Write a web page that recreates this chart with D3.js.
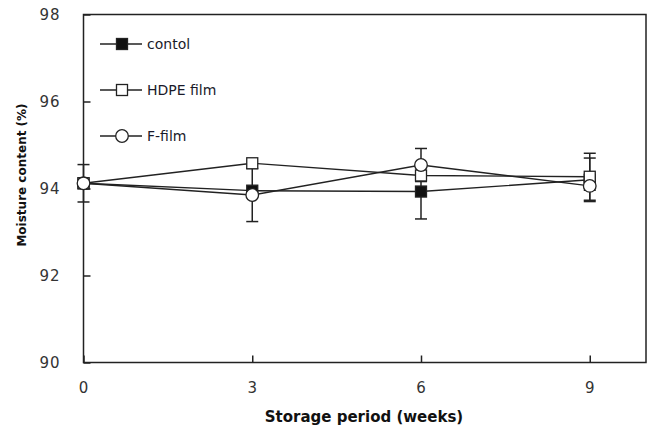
<!DOCTYPE html>
<html>
<head>
<meta charset="utf-8">
<script src="https://cdn.jsdelivr.net/npm/d3@7"></script>
<style>
  body { margin: 0; background: #fff; }
  svg { display: block; }
</style>
</head>
<body>
<script>
const width = 654;
const height = 427;
const margin = {top: 14.5, right: 8, bottom: 64.5, left: 83.5};

// data
const weeks = [0, 3, 6, 9];
const control = [94.12, 93.95, 93.93, 94.2];
const controlErr = [0.43, 0, 0.63, 0.5];
const hdpe = [94.12, 94.58, 94.3, 94.27];
const hdpeErr = [0, 0, 0, 0.54];
const ffilm = [94.12, 93.85, 94.54, 94.06];
const ffilmErr = [0, 0.61, 0.38, 0.1];
const xTicks = [0, 3, 6, 9];
const yTicks = [90, 92, 94, 96, 98];

const series = [
    {name: 'contol', values: control, err: controlErr, shape: 'square', fill: '#111'},
    {name: 'HDPE film', values: hdpe, err: hdpeErr, shape: 'square', fill: '#fff'},
    {name: 'F-film', values: ffilm, err: ffilmErr, shape: 'circle', fill: '#fff'}
];

const ink = '#222';

const svg = d3.select('body').append('svg')
    .attr('width', width)
    .attr('height', height);

const x = d3.scaleLinear().domain([0, 10]).range([margin.left, width - margin.right]);
const y = d3.scaleLinear().domain([90, 98]).range([height - margin.bottom, margin.top]);

// frame
svg.append('rect')
    .attr('x', x(0)).attr('y', y(98))
    .attr('width', x(10) - x(0)).attr('height', y(90) - y(98))
    .attr('fill', 'none').attr('stroke', ink).attr('stroke-width', 1.5);

// x axis, ticks inward
const xAxis = svg.append('g')
    .attr('transform', `translate(0,${y(90)})`)
    .call(d3.axisTop(x).tickValues(xTicks).tickSize(7).tickFormat(''));
xAxis.select('.domain').remove();
xAxis.selectAll('.tick line').attr('stroke', ink).attr('stroke-width', 1.5);

svg.append('g').selectAll('text')
    .data(xTicks)
    .enter().append('text')
    .attr('x', d => x(d))
    .attr('y', y(90) + 30)
    .attr('text-anchor', 'middle')
    .attr('font-family', 'DejaVu Sans, sans-serif')
    .attr('font-size', 15)
    .attr('fill', '#333')
    .text(d => d);

// y axis, ticks inward
const yAxis = svg.append('g')
    .attr('transform', `translate(${x(0)},0)`)
    .call(d3.axisRight(y).tickValues(yTicks).tickSize(7).tickFormat(''));
yAxis.select('.domain').remove();
yAxis.selectAll('.tick line').attr('stroke', ink).attr('stroke-width', 1.5);

svg.append('g').selectAll('text')
    .data(yTicks)
    .enter().append('text')
    .attr('x', x(0) - 23)
    .attr('y', d => y(d) + 5)
    .attr('text-anchor', 'end')
    .attr('font-family', 'DejaVu Sans, sans-serif')
    .attr('font-size', 15)
    .attr('letter-spacing', 1)
    .attr('fill', '#333')
    .text(d => d);

// axis titles
svg.append('text')
    .attr('x', 364)
    .attr('y', 422)
    .attr('text-anchor', 'middle')
    .attr('font-family', 'DejaVu Sans, sans-serif')
    .attr('font-weight', 'bold')
    .attr('font-size', 15)
    .attr('fill', '#111')
    .text('Storage period (weeks)');

svg.append('text')
    .attr('transform', 'translate(26,175) rotate(-90)')
    .attr('text-anchor', 'middle')
    .attr('font-family', 'DejaVu Sans, sans-serif')
    .attr('font-weight', 'bold')
    .attr('font-size', 12)
    .attr('fill', '#111')
    .text('Moisture content (%)');

function drawMarker(g, s, cx, cy) {
    if (s.shape === 'square') {
        g.append('rect')
            .attr('x', cx - 5.5).attr('y', cy - 5.5)
            .attr('width', 11).attr('height', 11)
            .attr('fill', s.fill).attr('stroke', ink).attr('stroke-width', 1.3);
    } else {
        g.append('circle')
            .attr('cx', cx).attr('cy', cy).attr('r', 6.3)
            .attr('fill', s.fill).attr('stroke', ink).attr('stroke-width', 1.3);
    }
}

const line = d3.line()
    .x((d, i) => x(weeks[i]))
    .y(d => y(d));

// error bars
series.forEach(s => {
    const g = svg.append('g');
    s.values.forEach((v, i) => {
        if (!s.err[i]) return;
        const cx = x(weeks[i]);
        const y0 = y(v - s.err[i]);
        const y1 = y(v + s.err[i]);
        g.append('line').attr('x1', cx).attr('x2', cx).attr('y1', y0).attr('y2', y1)
            .attr('stroke', ink).attr('stroke-width', 1.5);
        [y0, y1].forEach(yy => {
            g.append('line').attr('x1', cx - 6).attr('x2', cx + 6).attr('y1', yy).attr('y2', yy)
                .attr('stroke', ink).attr('stroke-width', 1.5);
        });
    });
});

// lines
series.forEach(s => {
    svg.append('path')
        .datum(s.values)
        .attr('d', line)
        .attr('fill', 'none')
        .attr('stroke', ink)
        .attr('stroke-width', 1.4);
});

// markers
series.forEach(s => {
    const g = svg.append('g');
    s.values.forEach((v, i) => drawMarker(g, s, x(weeks[i]), y(v)));
});

// legend
const legend = svg.append('g');
series.forEach((s, i) => {
    const ly = 44 + i * 46;
    legend.append('line')
        .attr('x1', 100).attr('x2', 142).attr('y1', ly).attr('y2', ly)
        .attr('stroke', ink).attr('stroke-width', 1.4);
    drawMarker(legend, s, 122, ly);
    legend.append('text')
        .attr('x', 147)
        .attr('y', ly + 5)
        .attr('font-family', 'DejaVu Sans, sans-serif')
        .attr('font-size', 14)
        .attr('fill', '#1a1a2a')
        .text(s.name);
});
</script>
</body>
</html>
